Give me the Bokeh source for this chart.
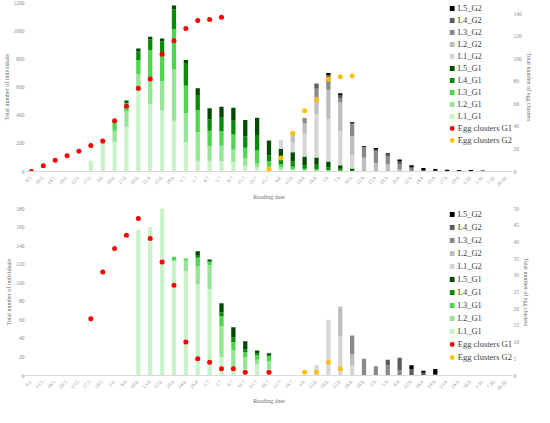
import math
from bokeh.plotting import figure
from bokeh.models import (FactorRange, Range1d, LinearAxis, Legend, LegendItem,
                          FixedTicker, ColumnDataSource)
from bokeh.layouts import column
from bokeh.embed import file_html
from bokeh.resources import INLINE

# ---------------- data: top chart ----------------
dates_top = ["8.5.", "10.5.", "14.5.", "18.5.", "22.5.", "27.5.", "3.6.", "10.6.", "17.6.", "20.6.",
             "22.6.", "25.6.", "28.6.", "1.7.", "2.7.", "4.7.", "5.7.", "8.7.", "15.7.", "20.7.",
             "25.7.", "6.8.", "13.8.", "18.8.", "26.8.", "3.9.", "7.9.", "10.9.", "12.9.", "15.9.",
             "18.9.", "20.9.", "22.9.", "24.9.", "25.9.", "27.9.", "29.9.", "1.10.", "3.10.", "7.10.", "10.10."]
top_L1_G1 = [0, 0, 0, 0, 0, 77, 192, 210, 320, 570, 475, 433, 360, 210, 77, 77, 73, 66, 40, 29,
             15, 15, 10, 5, 3, 2, 1, 0, 0, 0, 0, 0, 0, 0, 0, 0, 0, 0, 0, 0, 0]
top_L2_G1 = [0, 0, 0, 0, 0, 0, 10, 80, 106, 122, 190, 210, 365, 205, 201, 100, 110, 89, 55, 28,
             18, 15, 8, 5, 5, 3, 2, 1, 0, 0, 0, 0, 0, 0, 0, 0, 0, 0, 0, 0, 0]
top_L3_G1 = [0, 0, 0, 0, 0, 0, 0, 60, 56, 99, 197, 181, 287, 193, 157, 113, 102, 108, 73, 93,
             40, 23, 15, 10, 10, 6, 4, 2, 0, 0, 0, 0, 0, 0, 0, 0, 0, 0, 0, 0, 0]
top_L4_G1 = [0, 0, 0, 0, 0, 0, 0, 8, 11, 62, 75, 100, 140, 163, 109, 79, 97, 97, 82, 109,
             40, 57, 40, 25, 30, 20, 12, 7, 0, 0, 0, 0, 0, 0, 0, 0, 0, 0, 0, 0, 0]
top_L5_G1 = [0, 0, 0, 0, 0, 0, 0, 2, 11, 20, 20, 20, 26, 20, 48, 80, 78, 93, 115, 123,
             108, 49, 64, 61, 51, 40, 25, 12, 0, 0, 0, 0, 0, 0, 0, 0, 0, 0, 0, 0, 0]
top_L1_G2 = [0, 0, 0, 0, 0, 0, 0, 0, 0, 0, 0, 0, 0, 0, 0, 0, 0, 0, 0, 0,
             0, 64, 73, 164, 307, 300, 243, 95, 0, 0, 0, 0, 0, 0, 0, 0, 0, 0, 0, 0, 0]
top_L2_G2 = [0, 0, 0, 0, 0, 0, 0, 0, 0, 0, 0, 0, 0, 0, 0, 0, 0, 0, 0, 0,
             0, 0, 66, 70, 118, 210, 204, 133, 97, 60, 49, 15, 0, 0, 0, 0, 0, 0, 0, 0, 0]
top_L3_G2 = [0, 0, 0, 0, 0, 0, 0, 0, 0, 0, 0, 0, 0, 0, 0, 0, 0, 0, 0, 0,
             0, 0, 0, 40, 64, 60, 31, 86, 73, 84, 61, 34, 20, 0, 0, 0, 0, 0, 0, 0, 0]
top_L4_G2 = [0, 0, 0, 0, 0, 0, 0, 0, 0, 0, 0, 0, 0, 0, 0, 0, 0, 0, 0, 0,
             0, 0, 0, 0, 31, 42, 17, 10, 5, 10, 10, 22, 12, 10, 6, 4, 3, 2, 0, 0, 0]
top_L5_G2 = [0, 0, 0, 0, 0, 0, 0, 0, 0, 0, 0, 0, 0, 0, 0, 0, 0, 0, 0, 0,
             0, 0, 0, 0, 4, 16, 16, 5, 6, 12, 10, 15, 12, 14, 12, 9, 8, 8, 7, 4, 4]
top_egg_g1_dates = ["8.5.", "10.5.", "14.5.", "18.5.", "22.5.", "27.5.", "3.6.", "10.6.", "17.6.",
                    "20.6.", "22.6.", "25.6.", "28.6.", "1.7.", "2.7.", "4.7.", "5.7."]
top_egg_g1 = [0, 5, 10, 14, 18, 23, 27, 45, 58, 74, 82, 104, 116, 127, 134, 135, 137]
top_egg_g2_dates = ["25.7.", "6.8.", "13.8.", "18.8.", "26.8.", "3.9.", "7.9.", "10.9."]
top_egg_g2 = [2, 12, 34, 54, 64, 82, 84, 85]
top_yticks = [0, 200, 400, 600, 800, 1000, 1200]
top_y2ticks = [0, 20, 40, 60, 80, 100, 120, 140]

# ---------------- data: bottom chart ----------------
dates_bot = ["8.5.", "13.5.", "16.5.", "20.5.", "23.5.", "27.5.", "29.5.", "3.6.", "6.6.", "10.6.",
             "13.6.", "17.6.", "20.6.", "24.6.", "26.6.", "1.7.", "5.7.", "8.7.", "11.7.", "15.7.",
             "18.7.", "22.7.", "29.7.", "1.8.", "13.8.", "18.8.", "22.8.", "26.8.", "29.8.", "2.9.",
             "5.9.", "8.9.", "12.9.", "16.9.", "19.9.", "23.9.", "26.9.", "30.9.", "3.10.", "7.10.", "10.10."]
bot_L1_G1 = [0, 0, 0, 0, 0, 0, 0, 0, 0, 157, 160, 180, 123, 112, 98, 93, 20, 7, 7, 12,
             7, 0, 0, 0, 0, 0, 0, 0, 0, 0, 0, 0, 0, 0, 0, 0, 0, 0, 0, 0, 0]
bot_L2_G1 = [0, 0, 0, 0, 0, 0, 0, 0, 0, 0, 0, 0, 1, 12, 20, 26, 33, 20, 13, 5,
             8, 0, 0, 0, 0, 0, 0, 0, 0, 0, 0, 0, 0, 0, 0, 0, 0, 0, 0, 0, 0]
bot_L3_G1 = [0, 0, 0, 0, 0, 0, 0, 0, 0, 0, 0, 0, 4, 2, 9, 4, 11, 9, 5, 5,
             6, 0, 0, 0, 0, 0, 0, 0, 0, 0, 0, 0, 0, 0, 0, 0, 0, 0, 0, 0, 0]
bot_L4_G1 = [0, 0, 0, 0, 0, 0, 0, 0, 0, 0, 0, 0, 0, 0, 2, 0, 4, 5, 3, 2,
             1, 0, 0, 0, 0, 0, 0, 0, 0, 0, 0, 0, 0, 0, 0, 0, 0, 0, 0, 0, 0]
bot_L5_G1 = [0, 0, 0, 0, 0, 0, 0, 0, 0, 0, 0, 0, 0, 0, 5, 2, 10, 11, 9, 3,
             2, 0, 0, 0, 0, 0, 0, 0, 0, 0, 0, 0, 0, 0, 0, 0, 0, 0, 0, 0, 0]
bot_L1_G2 = [0, 0, 0, 0, 0, 0, 0, 0, 0, 0, 0, 0, 0, 0, 0, 0, 0, 0, 0, 0,
             0, 0, 0, 0, 11, 60, 42, 11, 0, 0, 0, 0, 0, 0, 0, 0, 0, 0, 0, 0, 0]
bot_L2_G2 = [0, 0, 0, 0, 0, 0, 0, 0, 0, 0, 0, 0, 0, 0, 0, 0, 0, 0, 0, 0,
             0, 0, 0, 0, 0, 0, 32, 12, 0, 0, 0, 0, 0, 0, 0, 0, 0, 0, 0, 0, 0]
bot_L3_G2 = [0, 0, 0, 0, 0, 0, 0, 0, 0, 0, 0, 0, 0, 0, 0, 0, 0, 0, 0, 0,
             0, 0, 0, 0, 0, 0, 0, 20, 18, 10, 11, 6, 0, 0, 0, 0, 0, 0, 0, 0, 0]
bot_L4_G2 = [0, 0, 0, 0, 0, 0, 0, 0, 0, 0, 0, 0, 0, 0, 0, 0, 0, 0, 0, 0,
             0, 0, 0, 0, 0, 0, 0, 0, 0, 0, 6, 13, 7, 3, 1, 0, 0, 0, 0, 0, 0]
bot_L5_G2 = [0, 0, 0, 0, 0, 0, 0, 0, 0, 0, 0, 0, 0, 0, 0, 0, 0, 0, 0, 0,
             0, 0, 0, 0, 0, 0, 0, 0, 0, 0, 0, 0, 4, 2, 6, 0, 0, 0, 0, 0, 0]
bot_egg_g1_dates = ["27.5.", "29.5.", "3.6.", "6.6.", "10.6.", "13.6.", "17.6.", "20.6.", "24.6.",
                    "26.6.", "1.7.", "5.7.", "8.7.", "11.7.", "18.7."]
bot_egg_g1 = [17, 31, 38, 42, 47, 41, 34, 27, 10, 5, 4, 2, 2, 1, 1]
bot_egg_g2_dates = ["1.8.", "13.8.", "18.8.", "22.8."]
bot_egg_g2 = [1, 1, 4, 2]
bot_yticks = [0, 20, 40, 60, 80, 100, 120, 140, 160, 180]
bot_y2ticks = [0, 5, 10, 15, 20, 25, 30, 35, 40, 45, 50]

stack_names = ["L1_G1", "L2_G1", "L3_G1", "L4_G1", "L5_G1",
               "L1_G2", "L2_G2", "L3_G2", "L4_G2", "L5_G2"]
stack_colors = ["#c9f2c9", "#96e596", "#4fd64f", "#078c07", "#004a00",
                "#d6d6d6", "#bdbdbd", "#8a8a8a", "#5c5c5c", "#000000"]
RED = "#ff0000"
ORANGE = "#ffc000"

FONT = "Liberation Serif"
TICK_COLOR = "#8c8c8c"
LABEL_COLOR = "#6e6e6e"


def make_chart(dates, series, g1x, g1y, g2x, g2y, ymax, yticks, y2max, y2ticks,
               width, height, bl, br, bt, bb, spacing):
    p = figure(x_range=FactorRange(*dates), y_range=Range1d(0, ymax),
               width=width, height=height, output_backend="svg", toolbar_location=None,
               min_border_left=bl, min_border_right=br, min_border_top=bt, min_border_bottom=bb)
    p.extra_y_ranges = {"egg": Range1d(0, y2max)}
    data = {"x": dates}
    for n, s in zip(stack_names, series):
        data[n] = s
    src = ColumnDataSource(data)
    p.vbar_stack(stack_names, x="x", width=0.36, source=src,
                 fill_color=stack_colors, line_color=None)
    p.scatter(x=g1x, y=g1y, y_range_name="egg", size=5, color=RED, line_color=None)
    p.scatter(x=g2x, y=g2y, y_range_name="egg", size=5, color=ORANGE, line_color=None)

    p.xgrid.grid_line_color = None
    p.ygrid.grid_line_color = None
    p.outline_line_color = None
    p.background_fill_color = "white"

    ya = p.yaxis[0]
    ya.ticker = FixedTicker(ticks=yticks)
    ya.axis_label = "Total number of individuals"
    ya2 = LinearAxis(y_range_name="egg", ticker=FixedTicker(ticks=y2ticks),
                     axis_label="Total number of egg clusters")
    p.add_layout(ya2, "right")
    for a in (ya, ya2):
        a.axis_line_color = None
        a.major_tick_line_color = None
        a.minor_tick_line_color = None
        a.major_tick_out = 0
        a.major_tick_in = 0
        a.major_label_text_font_size = "5.5px"
        a.major_label_text_font = FONT
        a.major_label_text_color = TICK_COLOR
        a.major_label_standoff = 1
        a.axis_label_text_font_size = "6px"
        a.axis_label_text_font = FONT
        a.axis_label_text_font_style = "normal"
        a.axis_label_text_color = LABEL_COLOR
        a.axis_label_standoff = 1

    xa = p.xaxis[0]
    xa.axis_label = "Reading date"
    xa.axis_line_color = "#d9d9d9"
    xa.axis_line_width = 1
    xa.major_tick_line_color = None
    xa.minor_tick_line_color = None
    xa.major_tick_out = 0
    xa.major_label_orientation = math.pi / 4
    xa.major_label_text_font_size = "5px"
    xa.major_label_text_font = FONT
    xa.major_label_text_color = TICK_COLOR
    xa.major_label_standoff = 5
    xa.axis_label_text_font_size = "6px"
    xa.axis_label_text_font = FONT
    xa.axis_label_text_font_style = "normal"
    xa.axis_label_text_color = LABEL_COLOR
    xa.axis_label_standoff = 4

    # legend proxies: a single point far below the frame (clipped), shown only in the legend
    off = [dates[0]]
    offy = [-10 * ymax]
    items = []
    for i in [9, 8, 7, 6, 5, 4, 3, 2, 1, 0]:
        r = p.scatter(x=off, y=offy, marker="square", fill_color=stack_colors[i], line_color=None)
        items.append(LegendItem(label=stack_names[i], renderers=[r]))
    r1 = p.scatter(x=off, y=offy, marker="circle", fill_color=RED, line_color=None)
    r2 = p.scatter(x=off, y=offy, marker="circle", fill_color=ORANGE, line_color=None)
    items.append(LegendItem(label="Egg clusters G1", renderers=[r1]))
    items.append(LegendItem(label="Egg clusters G2", renderers=[r2]))
    leg = Legend(items=items, location="top_right")
    leg.label_text_font = FONT
    leg.label_text_font_size = "8.5px"
    leg.label_text_color = "#404040"
    leg.label_height = 12
    leg.glyph_height = 12
    leg.glyph_width = 12
    leg.spacing = spacing
    leg.padding = 0
    leg.margin = 0
    leg.label_standoff = 0
    leg.border_line_color = None
    leg.background_fill_alpha = 0
    p.add_layout(leg)
    return p


top_series = [top_L1_G1, top_L2_G1, top_L3_G1, top_L4_G1, top_L5_G1,
              top_L1_G2, top_L2_G2, top_L3_G2, top_L4_G2, top_L5_G2]
bot_series = [bot_L1_G1, bot_L2_G1, bot_L3_G1, bot_L4_G1, bot_L5_G1,
              bot_L1_G2, bot_L2_G2, bot_L3_G2, bot_L4_G2, bot_L5_G2]

p1 = make_chart(dates_top, top_series, top_egg_g1_dates, top_egg_g1, top_egg_g2_dates, top_egg_g2,
                1200, top_yticks, 150, top_y2ticks, 534, 203, 22, 16, 2, 25, 0)
p2 = make_chart(dates_bot, bot_series, bot_egg_g1_dates, bot_egg_g1, bot_egg_g2_dates, bot_egg_g2,
                180, bot_yticks, 50, bot_y2ticks, 534, 204, 18, 16, 5, 24, 1)

layout = column(p1, p2, spacing=0)
open("out.html", "w").write(file_html(layout, INLINE))
